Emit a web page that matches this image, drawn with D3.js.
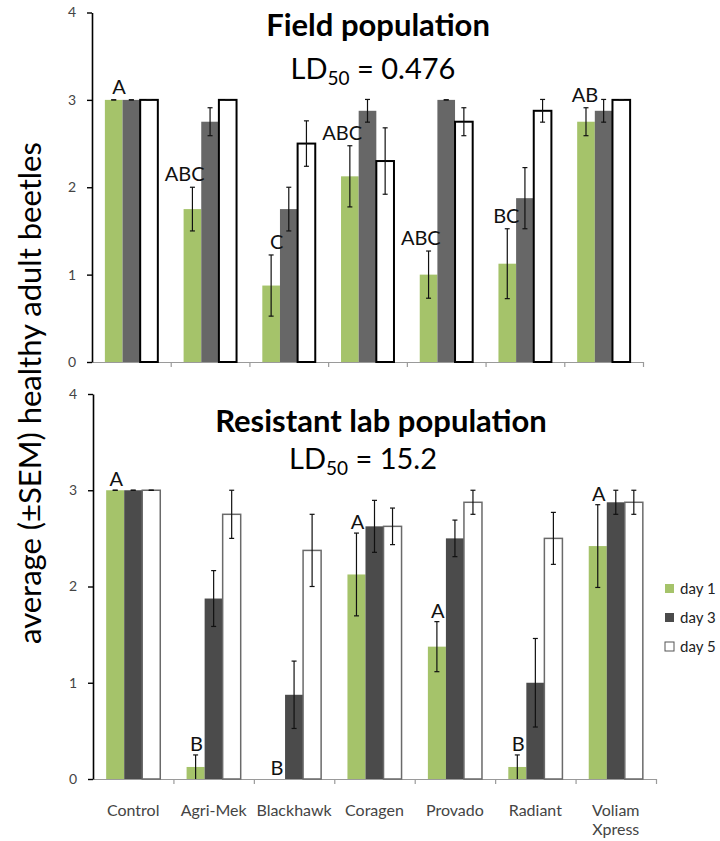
<!DOCTYPE html>
<html>
<head>
<meta charset="utf-8">
<script src="https://cdn.jsdelivr.net/npm/d3@7"></script>
<style>
  body { margin: 0; background: #fff; }
  svg { display: block; font-family: Lato, "Open Sans", sans-serif; }
</style>
</head>
<body>
<div id="chart"></div>
<script>
var svgWidth = 720;
var svgHeight = 841;

// data
var categories = ["Control", "Agri-Mek", "Blackhawk", "Coragen", "Provado", "Radiant", "Voliam Xpress"];
var days = ["day 1", "day 3", "day 5"];
var yTicks = [0, 1, 2, 3, 4];

var fieldDay1 = [3, 1.75, 0.875, 2.125, 1.0, 1.125, 2.75];
var fieldDay1Err = [0, 0.25, 0.35, 0.35, 0.27, 0.4, 0.16];
var fieldDay3 = [3, 2.75, 1.75, 2.875, 3, 1.875, 2.875];
var fieldDay3Err = [0, 0.16, 0.25, 0.13, 0, 0.35, 0.13];
var fieldDay5 = [3, 3, 2.5, 2.3, 2.75, 2.875, 3];
var fieldDay5Err = [0, 0, 0.26, 0.38, 0.16, 0.13, 0];
var fieldLetters = ["A", "ABC", "C", "ABC", "ABC", "BC", "AB"];

var labDay1 = [3, 0.125, 0, 2.125, 1.375, 0.125, 2.42];
var labDay1Err = [0, 0.125, 0, 0.43, 0.26, 0.125, 0.43];
var labDay3 = [3, 1.875, 0.875, 2.625, 2.5, 1.0, 2.875];
var labDay3Err = [0, 0.29, 0.35, 0.27, 0.19, 0.46, 0.125];
var labDay5 = [3, 2.75, 2.375, 2.625, 2.875, 2.5, 2.875];
var labDay5Err = [0, 0.25, 0.375, 0.19, 0.125, 0.27, 0.125];
var labLetters = ["A", "B", "B", "A", "A", "B", "A"];

var green = "#a5c36a";

var svg = d3.select("#chart")
  .append("svg")
  .attr("width", svgWidth)
  .attr("height", svgHeight);

function drawPanel(opt) {
  var rows = [];
  categories.forEach(function(c, i) {
    rows.push({cat: c, day: days[0], v: opt.d1[i], e: opt.e1[i]});
    rows.push({cat: c, day: days[1], v: opt.d3[i], e: opt.e3[i]});
    rows.push({cat: c, day: days[2], v: opt.d5[i], e: opt.e5[i]});
  });

  var x = d3.scaleBand().domain(categories).range([opt.left, opt.right]);
  var xSub = d3.scaleBand().domain(days).range([0, x.bandwidth()]).paddingOuter(0.73);
  var y = d3.scaleLinear().domain([0, 4]).range([opt.bottom, opt.top]);
  var xLin = d3.scaleLinear().domain([0, categories.length]).range([opt.left, opt.right]);

  var g = svg.append("g");

  // bottom axis, ticks between categories
  var xAxis = g.append("g")
    .attr("transform", `translate(0, ${opt.bottom})`)
    .call(d3.axisBottom(xLin).tickValues(d3.range(1, categories.length + 1)).tickFormat("").tickSize(5).tickSizeOuter(0));
  xAxis.selectAll("path, line").attr("stroke", "#9a9a9a").attr("stroke-width", 1.2);

  var fills = {"day 1": green, "day 3": opt.dark, "day 5": "#fff"};

  g.selectAll("rect.bar")
    .data(rows)
    .enter()
    .append("rect")
    .attr("class", "bar")
    .attr("x", d => x(d.cat) + xSub(d.day))
    .attr("y", d => y(d.v))
    .attr("width", xSub.bandwidth())
    .attr("height", d => y(0) - y(d.v))
    .attr("fill", d => fills[d.day])
    .attr("stroke", d => d.day == "day 5" ? opt.whiteStroke : "none")
    .attr("stroke-width", opt.whiteStrokeW);

  // error bars
  var errs = g.selectAll("g.err")
    .data(rows.filter(d => d.v > 0))
    .enter()
    .append("g")
    .attr("class", "err")
    .attr("stroke", "#111")
    .attr("stroke-width", 1.2);
  var cx = d => x(d.cat) + xSub(d.day) + xSub.bandwidth() / 2;
  errs.append("line")
    .attr("x1", cx).attr("x2", cx)
    .attr("y1", d => y(d.v + d.e))
    .attr("y2", d => y(Math.max(0, d.v - d.e)));
  errs.append("line")
    .attr("x1", d => cx(d) - 2.5).attr("x2", d => cx(d) + 2.5)
    .attr("y1", d => y(d.v + d.e)).attr("y2", d => y(d.v + d.e));
  errs.append("line")
    .attr("x1", d => cx(d) - 2.5).attr("x2", d => cx(d) + 2.5)
    .attr("y1", d => y(Math.max(0, d.v - d.e))).attr("y2", d => y(Math.max(0, d.v - d.e)))
    .attr("display", d => d.v - d.e <= 0 ? "none" : null);

  // significance letters over day 1 bars
  g.selectAll("text.letter")
    .data(rows.filter(d => d.day == "day 1"))
    .enter()
    .append("text")
    .attr("class", "letter")
    .attr("x", d => x(d.cat) + xSub(d.day) + opt.letterDx)
    .attr("y", d => y(d.v + d.e) - opt.letterGap)
    .attr("text-anchor", opt.letterAnchor)
    .attr("font-size", 20)
    .attr("fill", "#111")
    .text((d, i) => opt.letters[i]);

  // left axis
  var yAxis = g.append("g")
    .attr("transform", `translate(${opt.left}, 0)`)
    .call(d3.axisLeft(y).tickValues(yTicks).tickFormat(d3.format("d")).tickSize(5).tickSizeOuter(0).tickPadding(11));
  yAxis.select(".domain").attr("stroke", "#000").attr("stroke-width", 1.6);
  yAxis.selectAll(".tick line").attr("stroke", "#000").attr("stroke-width", 1.4);
  yAxis.selectAll("text").attr("font-size", 14).attr("fill", "#444").attr("font-family", "Lato");

  // titles
  g.append("text")
    .attr("x", opt.titleX).attr("y", opt.titleY)
    .attr("text-anchor", "middle")
    .attr("font-size", 31).attr("font-weight", "bold").attr("fill", "#000")
    .text(opt.title);
  var ld = g.append("text")
    .attr("x", opt.ldX).attr("y", opt.ldY)
    .attr("text-anchor", "middle")
    .attr("font-size", 29).attr("fill", "#000");
  ld.append("tspan").text("LD");
  ld.append("tspan").attr("font-size", 19).attr("dy", 6).text("50");
  ld.append("tspan").attr("dy", -6).text(" = " + opt.ld);

  return x;
}

drawPanel({
  left: 92, right: 643, top: 12.5, bottom: 362,
  d1: fieldDay1, e1: fieldDay1Err, d3: fieldDay3, e3: fieldDay3Err, d5: fieldDay5, e5: fieldDay5Err,
  letters: fieldLetters, letterAnchor: "end", letterDx: 21, letterGap: 6,
  dark: "#676767", whiteStroke: "#000", whiteStrokeW: 2,
  title: "Field population", titleX: 378, titleY: 36,
  ld: "0.476", ldX: 373, ldY: 79
});

var xLab = drawPanel({
  left: 93, right: 656, top: 394, bottom: 779,
  d1: labDay1, e1: labDay1Err, d3: labDay3, e3: labDay3Err, d5: labDay5, e5: labDay5Err,
  letters: labLetters, letterAnchor: "middle", letterDx: 10, letterGap: 4,
  dark: "#4b4b4b", whiteStroke: "#6a6a6a", whiteStrokeW: 1.5,
  title: "Resistant lab population", titleX: 381, titleY: 432,
  ld: "15.2", ldX: 363, ldY: 469
});

// category labels under the lower panel
var catLabels = svg.append("g")
  .selectAll("text")
  .data(categories)
  .enter()
  .append("text")
  .attr("x", d => xLab(d) + xLab.bandwidth() / 2)
  .attr("y", 816)
  .attr("text-anchor", "middle")
  .attr("font-size", 16)
  .attr("fill", "#444");
catLabels.each(function(d) {
  var parts = d.split(" ");
  var t = d3.select(this);
  if (d == "Voliam Xpress") {
    parts.forEach(function(p, i) {
      t.append("tspan").attr("x", xLab(d) + xLab.bandwidth() / 2).attr("dy", i == 0 ? 0 : 19).text(p);
    });
  } else {
    t.text(d);
  }
});

// legend
var legend = svg.append("g")
  .selectAll("g")
  .data(days)
  .enter()
  .append("g")
  .attr("transform", (d, i) => `translate(665, ${584 + i * 29})`);
legend.append("rect")
  .attr("width", 9).attr("height", 9)
  .attr("fill", (d, i) => [green, "#4b4b4b", "#fff"][i])
  .attr("stroke", (d, i) => i == 2 ? "#555" : "none")
  .attr("stroke-width", 1);
legend.append("text")
  .attr("x", 15).attr("y", 10)
  .attr("font-size", 15).attr("fill", "#222")
  .text(d => d);

// y axis title
svg.append("text")
  .attr("transform", "translate(41, 393) rotate(-90)")
  .attr("text-anchor", "middle")
  .attr("font-size", 31)
  .attr("fill", "#000")
  .text("average (±SEM) healthy adult beetles");
</script>
</body>
</html>
